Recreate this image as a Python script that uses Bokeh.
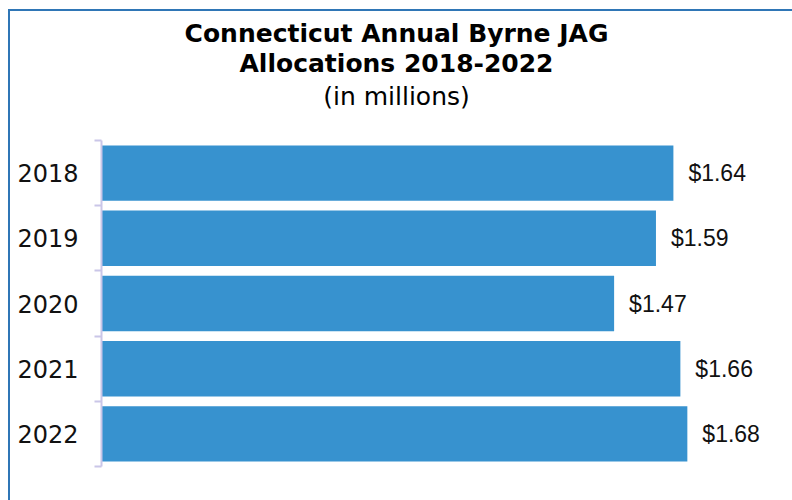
from bokeh.plotting import figure
from bokeh.layouts import column
from bokeh.models import Range1d, LinearAxis, FixedTicker, Label, ColumnDataSource
from bokeh.core.properties import value
from bokeh.embed import file_html
from bokeh.resources import INLINE

# ---- data ----
years = ["2018", "2019", "2020", "2021", "2022"]
allocations = [1.64, 1.59, 1.47, 1.66, 1.68]
value_labels = ["$1.64", "$1.59", "$1.47", "$1.66", "$1.68"]
title_lines = ["Connecticut Annual Byrne JAG", "Allocations 2018-2022", "(in millions)"]

n = len(years)
ypos = [n - i - 0.5 for i in range(n)]  # first year on top

src = ColumnDataSource(dict(y=ypos, v=allocations, lab=value_labels))

# page offsets of the figure inside the bordered box
OX, OY = 10, 11
W, H = 792 - OX, 500 - OY
frame_top_page, frame_bottom_page = 140, 466
band = (frame_bottom_page - frame_top_page) / n
y_end = n + (frame_top_page - OY) / band   # extend range so titles sit inside the frame

p = figure(width=W, height=H, output_backend="svg", toolbar_location=None,
           x_range=Range1d(0, 1.95), y_range=Range1d(0, y_end),
           x_axis_location=None, y_axis_location=None,
           min_border_left=101 - OX, min_border_right=11,
           min_border_top=0, min_border_bottom=500 - frame_bottom_page)
p.outline_line_color = None
p.grid.visible = False
p.background_fill_color = "white"
p.border_fill_color = "white"

p.hbar(y="y", right="v", left=0, height=0.85, source=src,
       fill_color="#3792CF", line_color=None)

p.text(x="v", y="y", text="lab", source=src, x_offset=15,
       text_align="left", text_baseline="middle",
       text_font=value("Liberation Sans"), text_font_size="23px",
       text_color="#111111")

yaxis = LinearAxis(ticker=FixedTicker(ticks=ypos, minor_ticks=list(range(n + 1))),
                   bounds=(0, n))
yaxis.major_label_overrides = {y: yr for y, yr in zip(ypos, years)}
yaxis.major_tick_line_color = None
yaxis.major_tick_out = 0
yaxis.major_tick_in = 0
yaxis.minor_tick_line_color = "#CAC6E8"
yaxis.minor_tick_line_width = 2
yaxis.minor_tick_out = 7
yaxis.minor_tick_in = 0
yaxis.axis_line_color = "#CAC6E8"
yaxis.axis_line_width = 2
yaxis.major_label_standoff = 16
yaxis.major_label_text_font = "DejaVu Sans"
yaxis.major_label_text_font_size = "24px"
yaxis.major_label_text_color = "#111111"
p.add_layout(yaxis, "left")

# title lines (canvas units, y measured from top)
title_y = [33, 63, 96]
styles = [("bold", "25px"), ("bold", "25px"), ("normal", "25px")]
for txt, ty, (fs, sz) in zip(title_lines, title_y, styles):
    p.add_layout(Label(x=396 - OX, y=ty - OY, x_units="canvas", y_units="canvas",
                       text=txt, text_align="center", text_baseline="middle",
                       text_font="DejaVu Sans", text_font_style=fs,
                       text_font_size=sz, text_color="#000000"))

layout = column(p, styles={"margin-left": "8px", "margin-top": "9px",
                           "border-left": "2px solid #2F76B6",
                           "border-top": "2px solid #2F76B6"})

open("out.html", "w").write(file_html(layout, INLINE))
